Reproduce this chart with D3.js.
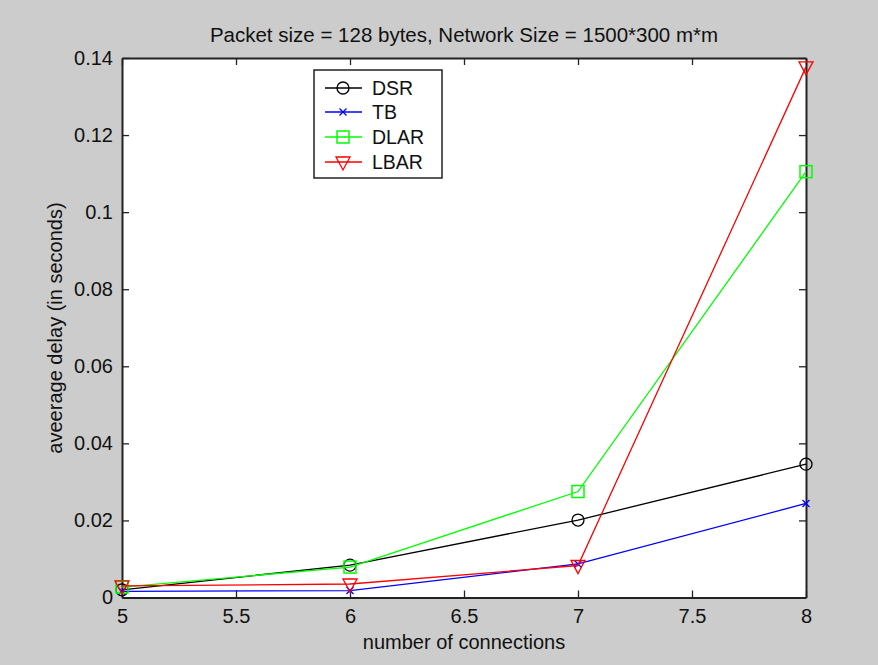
<!DOCTYPE html>
<html>
<head>
<meta charset="utf-8">
<script src="https://cdn.jsdelivr.net/npm/d3@7"></script>
<style>
  html, body { margin: 0; padding: 0; background: #cccccc; }
  svg { display: block; }
  text { font-family: "Liberation Sans", Arial, sans-serif; fill: #111; }
</style>
</head>
<body>
<svg id="chart" width="878" height="665"></svg>
<script>
// Average delay vs number of connections
const connections = [5, 6, 7, 8];
const dsr  = [0.0020, 0.0084, 0.0201, 0.0346];
const tb   = [0.0016, 0.0018, 0.0087, 0.0244];
const dlar = [0.0027, 0.0079, 0.0275, 0.1105];
const lbar = [0.0030, 0.0035, 0.0083, 0.1377];
const xTicks = [5, 5.5, 6, 6.5, 7, 7.5, 8];
const yTicks = [0, 0.02, 0.04, 0.06, 0.08, 0.1, 0.12, 0.14];
const seriesNames = ["DSR", "TB", "DLAR", "LBAR"];
const seriesColors = ["#000000", "#0000ff", "#00ff00", "#ff0000"];
const seriesMarkers = ["circle", "x", "square", "triangle"];
const seriesValues = [dsr, tb, dlar, lbar];

const svg = d3.select("#chart");
const plotL = 122, plotR = 806, plotT = 58, plotB = 597.5;

const x = d3.scaleLinear().domain([5, 8]).range([plotL, plotR]);
const y = d3.scaleLinear().domain([0, 0.14]).range([plotB, plotT]);

// plot area
svg.append("rect").attr("x", plotL).attr("y", plotT)
  .attr("width", plotR - plotL).attr("height", plotB - plotT)
  .attr("fill", "#ffffff");

const tickLen = 7;
const fmtX = d => String(d);
const fmtY = d => d === 0 ? "0" : String(+d.toFixed(2));

// bottom and top axes
const xb = svg.append("g").attr("transform", `translate(0,${plotB})`)
  .call(d3.axisBottom(x).tickValues(xTicks).tickFormat(fmtX).tickSizeInner(-tickLen).tickSizeOuter(0).tickPadding(11));
const xt = svg.append("g").attr("transform", `translate(0,${plotT})`)
  .call(d3.axisTop(x).tickValues(xTicks).tickFormat("").tickSizeInner(-tickLen).tickSizeOuter(0));
// left and right axes
const yl = svg.append("g").attr("transform", `translate(${plotL},0)`)
  .call(d3.axisLeft(y).tickValues(yTicks).tickFormat(fmtY).tickSizeInner(-tickLen).tickSizeOuter(0).tickPadding(9));
const yr = svg.append("g").attr("transform", `translate(${plotR},0)`)
  .call(d3.axisRight(y).tickValues(yTicks).tickFormat("").tickSizeInner(-tickLen).tickSizeOuter(0));

[xb, xt, yl, yr].forEach(g => {
  g.select(".domain").attr("stroke", "#222").attr("stroke-width", 2);
  g.selectAll(".tick line").attr("stroke", "#222").attr("stroke-width", 1.3);
  g.selectAll(".tick text").attr("font-size", 20).attr("fill", "#111")
    .attr("font-family", "Liberation Sans, Arial, sans-serif");
});
xb.selectAll(".tick text").attr("dy", "0.71em");

// lines and markers
const line = d3.line().x((d, i) => x(connections[i])).y(d => y(d));

function drawMarker(g, type, cx, cy, color) {
  if (type === "circle") {
    g.append("circle").attr("cx", cx).attr("cy", cy).attr("r", 6)
      .attr("fill", "none").attr("stroke", color).attr("stroke-width", 1.3);
  } else if (type === "x") {
    const s = 3.5;
    g.append("path").attr("d", `M${cx - s},${cy - s}L${cx + s},${cy + s}M${cx - s},${cy + s}L${cx + s},${cy - s}`)
      .attr("stroke", color).attr("stroke-width", 1.3);
  } else if (type === "square") {
    g.append("rect").attr("x", cx - 6).attr("y", cy - 6).attr("width", 12).attr("height", 12)
      .attr("fill", "none").attr("stroke", color).attr("stroke-width", 1.5);
  } else if (type === "triangle") {
    g.append("path").attr("d", `M${cx - 7},${cy - 5}L${cx + 7},${cy - 5}L${cx},${cy + 8}Z`)
      .attr("fill", "none").attr("stroke", color).attr("stroke-width", 1.3);
  }
}

seriesValues.forEach((vals, k) => {
  const g = svg.append("g");
  g.append("path").datum(vals).attr("d", line)
    .attr("fill", "none").attr("stroke", seriesColors[k]).attr("stroke-width", 1.3);
  vals.forEach((v, i) => drawMarker(g, seriesMarkers[k], x(connections[i]), y(v), seriesColors[k]));
});

// legend
const lg = svg.append("g");
lg.append("rect").attr("x", 314).attr("y", 70).attr("width", 128).attr("height", 108)
  .attr("fill", "#ffffff").attr("stroke", "#222").attr("stroke-width", 1.5);
const legendRows = [88, 112, 137, 162];
seriesNames.forEach((name, k) => {
  const yy = legendRows[k];
  lg.append("line").attr("x1", 325).attr("x2", 362).attr("y1", yy).attr("y2", yy)
    .attr("stroke", seriesColors[k]).attr("stroke-width", 1.3);
  drawMarker(lg, seriesMarkers[k], 343, yy, seriesColors[k]);
  lg.append("text").attr("x", 372).attr("y", yy).attr("dy", "0.36em")
    .attr("font-size", 19.5).text(name);
});

// titles
svg.append("text").attr("x", (plotL + plotR) / 2).attr("y", 42)
  .attr("text-anchor", "middle").attr("font-size", 20.5)
  .text("Packet size = 128 bytes, Network Size = 1500*300 m*m");
svg.append("text").attr("x", (plotL + plotR) / 2).attr("y", 649)
  .attr("text-anchor", "middle").attr("font-size", 20)
  .text("number of connections");
svg.append("text").attr("transform", `translate(62,328) rotate(-90)`)
  .attr("text-anchor", "middle").attr("font-size", 20)
  .text("aveerage delay (in seconds)");
</script>
</body>
</html>
